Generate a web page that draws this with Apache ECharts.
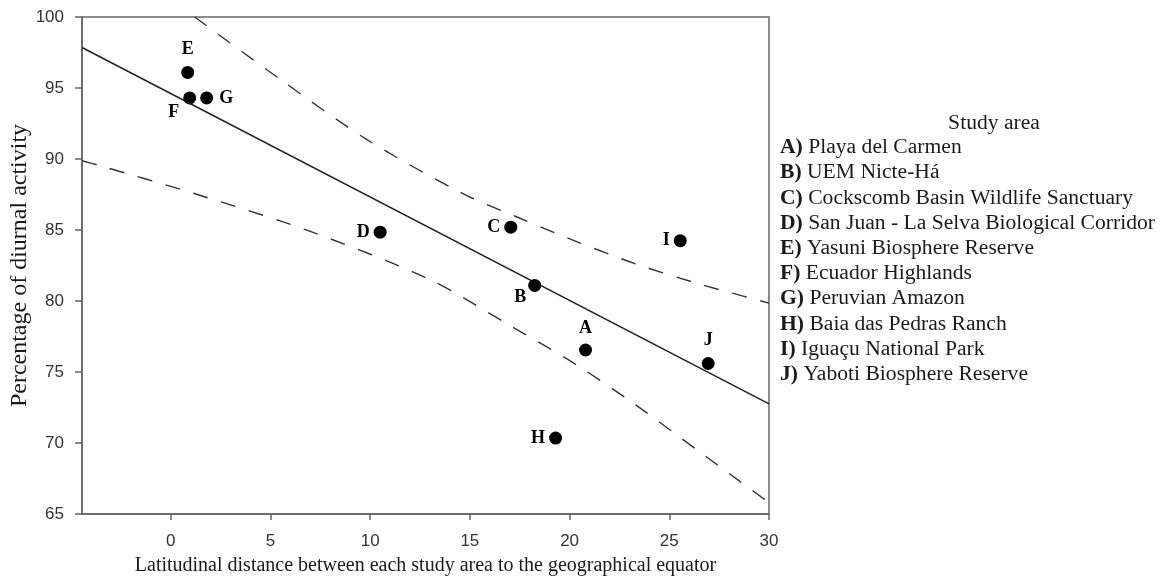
<!DOCTYPE html>
<html>
<head>
<meta charset="utf-8">
<script src="https://cdn.jsdelivr.net/npm/echarts@6/dist/echarts.min.js"></script>
<style>
  html, body { margin: 0; padding: 0; background: #fff; }
  #chart { width: 1168px; height: 579px; }
</style>
</head>
<body>
<div id="chart"></div>
<script>
// study sites
var siteLetters = ['A', 'B', 'C', 'D', 'E', 'F', 'G', 'H', 'I', 'J'];
var siteNames = [
  'Playa del Carmen',
  'UEM Nicte-Há',
  'Cockscomb Basin Wildlife Sanctuary',
  'San Juan - La Selva Biological Corridor',
  'Yasuni Biosphere Reserve',
  'Ecuador Highlands',
  'Peruvian Amazon',
  'Baia das Pedras Ranch',
  'Iguaçu National Park',
  'Yaboti Biosphere Reserve'
];
var latDistance = [20.8, 18.25, 17.05, 10.5, 0.85, 0.95, 1.8, 19.3, 25.55, 26.95];
var diurnalPct = [76.55, 81.1, 85.2, 84.85, 96.1, 94.3, 94.3, 70.35, 84.25, 75.6];

// regression line and band
var fitLine = [[-4.45, 97.85], [30, 72.75]];
var upperBand = [[1.2, 100], [5.5, 95.6], [9.8, 91.4], [14.6, 87.6], [17.3, 85.95],
  [20.5, 84.1], [23.35, 82.6], [26.5, 81.2], [30, 79.85]];
var lowerBand = [[-4.45, 89.88], [-3.6, 89.55], [1.1, 87.6], [7, 84.9], [13, 81.5],
  [17.1, 78.2], [20.35, 75.5], [23.4, 72.6], [26.4, 69.5], [30, 65.8]];

var xTicks = [0, 5, 10, 15, 20, 25, 30];

var serif = '"Liberation Serif", "Times New Roman", serif';
var sans = '"Liberation Sans", Arial, sans-serif';

// where each letter sits around its dot
var labelPos = {
  A: ['top', [0, -2]], B: ['left', [2, 12]], C: ['left', [0, 0]], D: ['left', [0, 0]],
  E: ['top', [0, -4]], F: ['left', [0, 14]], G: ['right', [2, 0]], H: ['left', [0, 0]],
  I: ['left', [0, 0]], J: ['top', [0, -4]]
};

var points = siteLetters.map(function (l, i) {
  return {
    name: l,
    value: [latDistance[i], diurnalPct[i]],
    label: { position: labelPos[l][0], offset: labelPos[l][1] }
  };
});

var legendItems = [{
  type: 'text', x: 994, y: 124, scaleX: 1.08,
  style: { text: 'Study area', font: '20px ' + serif, fill: '#1a1a1a', textAlign: 'center', textVerticalAlign: 'middle' }
}];
siteLetters.forEach(function (l, i) {
  legendItems.push({
    type: 'text', x: 780, y: 148 + i * 25.2, scaleX: 1.08,
    style: {
      text: '{b|' + l + ')} ' + siteNames[i],
      font: '20px ' + serif, fill: '#1a1a1a', textVerticalAlign: 'middle',
      rich: { b: { fontWeight: 'bold', fontFamily: serif, fontSize: 20, fill: '#1a1a1a' } }
    }
  });
});

var myChart = echarts.init(document.getElementById('chart'));
var option = {
  animation: false,
  backgroundColor: '#fff',
  grid: {
    left: 82, right: 399, top: 17, bottom: 65,
    containLabel: false, outerBoundsMode: 'none',
    show: true, borderColor: '#666', borderWidth: 1.5
  },
  xAxis: {
    type: 'value', min: -4.45, max: 30,
    name: 'Latitudinal distance between each study area to the geographical equator',
    nameLocation: 'middle', nameGap: 42, nameMoveOverlap: false,
    nameTextStyle: { fontFamily: serif, fontSize: 20, color: '#1a1a1a' },
    axisLine: { show: true, onZero: false, lineStyle: { color: '#666', width: 1.5 } },
    axisTick: { show: true, customValues: xTicks, length: 6, lineStyle: { color: '#666', width: 1.5 } },
    axisLabel: { customValues: xTicks, margin: 19, fontFamily: sans, fontSize: 17, color: '#333' },
    splitLine: { show: false }
  },
  yAxis: {
    type: 'value', min: 65, max: 100, interval: 5,
    name: 'Percentage of diurnal activity',
    nameLocation: 'middle', nameGap: 50, nameMoveOverlap: false,
    nameTextStyle: { fontFamily: serif, fontSize: 24, color: '#1a1a1a' },
    axisLine: { show: true, onZero: false, lineStyle: { color: '#666', width: 1.5 } },
    axisTick: { show: true, length: 7, lineStyle: { color: '#666', width: 1.5 } },
    axisLabel: { margin: 18, fontFamily: sans, fontSize: 17, color: '#333' },
    splitLine: { show: false }
  },
  series: [
    {
      type: 'line', data: fitLine, showSymbol: false, silent: true,
      lineStyle: { color: '#222', width: 1.5 }
    },
    {
      type: 'line', data: upperBand, smooth: 0.3, showSymbol: false, silent: true,
      lineStyle: { color: '#333', width: 1.4, type: [15, 14] }
    },
    {
      type: 'line', data: lowerBand, smooth: 0.3, showSymbol: false, silent: true,
      lineStyle: { color: '#333', width: 1.4, type: [15, 14] }
    },
    {
      type: 'scatter', data: points, symbolSize: 13, z: 5,
      itemStyle: { color: '#000', opacity: 1 },
      label: {
        show: true, formatter: '{b}', distance: 4,
        fontFamily: serif, fontWeight: 'bold', fontSize: 18, color: '#000'
      }
    }
  ],
  graphic: legendItems
};
myChart.setOption(option);
</script>
</body>
</html>
